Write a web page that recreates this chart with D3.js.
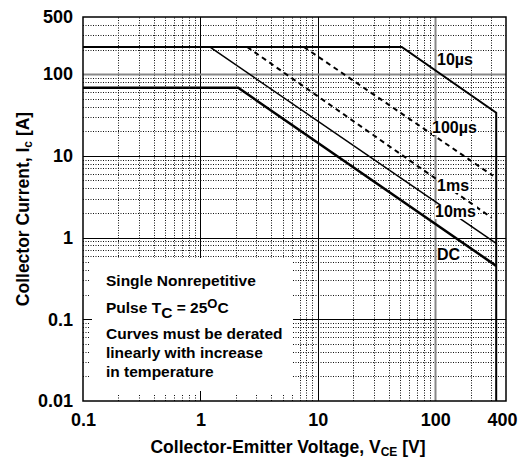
<!DOCTYPE html>
<html><head><meta charset="utf-8">
<script src="https://cdn.jsdelivr.net/npm/d3@7"></script>
<style>
body{margin:0;background:#fff}
text{font-family:Arial,"Liberation Sans",Helvetica,sans-serif;font-weight:bold;fill:#000}
</style>
</head><body>
<svg id="c" width="526" height="461"></svg>
<script>
// ---- data ----
const xTickValues = [0.1, 1, 10, 100, 400];
const xTickLabels = ["0.1", "1", "10", "100", "400"];
const yTickValues = [0.01, 0.1, 1, 10, 100, 500];
const yTickLabels = ["0.01", "0.1", "1", "10", "100", "500"];
const curveNames = ["10µs", "100µs", "1ms", "10ms", "DC"];
// V_CE [V] and I_C [A] points of each SOA boundary
const v10us  = [0.1, 51.8, 330, 330];
const i10us  = [215, 215, 33.7, 0.01];
const v100us = [7.6, 310];
const i100us = [215, 5.7];
const v1ms   = [2.5, 302];
const i1ms   = [215, 1.75];
const v10ms  = [1.2, 330];
const i10ms  = [215, 0.85];
const vDC    = [0.1, 2.1, 330];
const iDC    = [68, 68, 0.45];
const legendLines = ["Single Nonrepetitive", "Pulse T_C = 25^OC", "Curves must be derated", "linearly with increase", "in temperature"];

// ---- chart ----
const svg = d3.select("#c");
const x = d3.scaleLog().domain([0.1, 400]).range([83, 506]);
const y = d3.scaleLog().domain([0.01, 500]).range([401, 17]);
const px = v => Math.round(x(v)) + 0.5;
const py = v => Math.round(y(v)) + 0.5;

const xMinor = [], yMinor = [];
[0.1, 1, 10, 100].forEach(d => { for (let m = 2; m <= 9; m++) { const v = d * m; if (v < 399) xMinor.push(v); } });
[0.01, 0.1, 1, 10, 100].forEach(d => { for (let m = 2; m <= 9; m++) { const v = d * m; if (v < 499) yMinor.push(v); } });

const grid = svg.append("g");
grid.selectAll(".xm").data(xMinor).join("line")
  .attr("x1", px).attr("x2", px).attr("y1", y(0.01)).attr("y2", y(500))
  .attr("stroke", "#111").attr("stroke-width", 1).attr("stroke-dasharray", "1,1.5");
grid.selectAll(".ym").data(yMinor).join("line")
  .attr("y1", py).attr("y2", py).attr("x1", x(0.1)).attr("x2", x(400))
  .attr("stroke", "#111").attr("stroke-width", 1).attr("stroke-dasharray", "1,1.5");

const xMajor = [1, 10, 100], yMajor = [0.1, 1, 10, 100];
grid.selectAll(".xM").data(xMajor).join("line")
  .attr("x1", px).attr("x2", px).attr("y1", y(0.01)).attr("y2", y(500))
  .attr("stroke", d => d === 100 ? "#888" : "#000")
  .attr("stroke-width", d => d === 100 ? 2 : 1);
grid.selectAll(".yM").data(yMajor).join("line")
  .attr("y1", py).attr("y2", py).attr("x1", x(0.1)).attr("x2", x(400))
  .attr("stroke", d => d === 100 ? "#888" : "#000")
  .attr("stroke-width", d => d === 100 ? 2 : 1);

// legend box (white, hides grid)
svg.append("rect").attr("x", 84).attr("y", 258).attr("width", 209).attr("height", 142).attr("fill", "#fff");

// tick stubs inside box
const stubs = svg.append("g");
stubs.selectAll(".ls").data(yMinor.filter(v => y(v) > 258)).join("line")
  .attr("y1", py).attr("y2", py).attr("x1", 83).attr("x2", 89)
  .attr("stroke", "#111").attr("stroke-dasharray", "1,1.5");
stubs.selectAll(".bs").data(xMinor.filter(v => x(v) < 293)).join("line")
  .attr("x1", px).attr("x2", px).attr("y1", 401).attr("y2", 394)
  .attr("stroke", "#111").attr("stroke-dasharray", "1,1.5");
stubs.append("line").attr("x1", 83).attr("x2", 92).attr("y1", py(0.1)).attr("y2", py(0.1)).attr("stroke", "#000");
stubs.append("line").attr("x1", px(1)).attr("x2", px(1)).attr("y1", 401).attr("y2", 391).attr("stroke", "#000");

// curves
const line = d3.line().x(d => x(d[0])).y(d => y(d[1]));
const zip = (a, b) => a.map((v, i) => [v, b[i]]);
const curves = [
  {pts: zip(v10us, i10us), w: 2, dash: null},
  {pts: zip(v100us, i100us), w: 2, dash: "5,4"},
  {pts: zip(v1ms, i1ms), w: 2, dash: "5,4"},
  {pts: zip(v10ms, i10ms), w: 1.5, dash: null},
  {pts: zip(vDC, iDC), w: 2.5, dash: null}
];
svg.append("g").selectAll("path").data(curves).join("path")
  .attr("d", d => line(d.pts)).attr("fill", "none").attr("stroke", "#000")
  .attr("stroke-width", d => d.w).attr("stroke-dasharray", d => d.dash);

// curve labels
const labelPos = [[437, 65], [432, 133], [437, 191], [435, 217], [437, 260]];
const lg = svg.append("g");
curveNames.forEach((n, i) => {
  const gg = lg.append("g");
  const t = gg.append("text").attr("x", labelPos[i][0]).attr("y", labelPos[i][1])
    .attr("font-size", 16).text(n);
  const b = t.node().getBBox();
  gg.insert("rect", "text").attr("x", b.x).attr("y", b.y + 2).attr("width", b.width + 1).attr("height", b.height - 3).attr("fill", "#fff");
});

// border
svg.append("rect").attr("x", 83).attr("y", 17).attr("width", 423).attr("height", 384)
  .attr("fill", "none").attr("stroke", "#000").attr("stroke-width", 1.5);

// axes
const ax = svg.append("g").attr("transform", "translate(0,401)")
  .call(d3.axisBottom(x).tickValues(xTickValues).tickFormat((d, i) => xTickLabels[i]).tickSize(0).tickPadding(12));
const ay = svg.append("g").attr("transform", "translate(83,0)")
  .call(d3.axisLeft(y).tickValues(yTickValues).tickFormat((d, i) => yTickLabels[i]).tickSize(0).tickPadding(10));
[ax, ay].forEach(a => { a.select(".domain").remove(); a.selectAll("text").attr("font-size", 18).attr("font-family", null).attr("fill", "#000"); });
ax.selectAll(".tick").filter(d => d === 400).select("text").attr("dx", -4);

// legend text
const leg = svg.append("g").attr("font-size", 15.5);
const legY = [286, 313, 339, 358, 377];
leg.append("text").attr("x", 106).attr("y", legY[0]).text(legendLines[0]);
const p = leg.append("text").attr("x", 106).attr("y", legY[1]);
p.append("tspan").text("Pulse T");
p.append("tspan").attr("dy", 5).text("C");
p.append("tspan").attr("dy", -5).text(" = 25");
p.append("tspan").attr("dy", -5).attr("font-size", 13).text("O");
p.append("tspan").attr("dy", 5).text("C");
for (let k = 2; k < 5; k++) leg.append("text").attr("x", 106).attr("y", legY[k]).text(legendLines[k]);

// axis titles
const xt = svg.append("text").attr("x", 288).attr("y", 453).attr("text-anchor", "middle").attr("font-size", 17.5);
xt.append("tspan").text("Collector-Emitter Voltage, V");
xt.append("tspan").attr("font-size", 12).attr("dy", 3).text("CE");
xt.append("tspan").attr("dy", -3).text(" [V]");
const yt = svg.append("text").attr("transform", "translate(29,209) rotate(-90)").attr("text-anchor", "middle").attr("font-size", 17.5);
yt.append("tspan").text("Collector Current, I");
yt.append("tspan").attr("font-size", 12).attr("dy", 3).text("c");
yt.append("tspan").attr("dy", -3).text(" [A]");
</script>
</body></html>
